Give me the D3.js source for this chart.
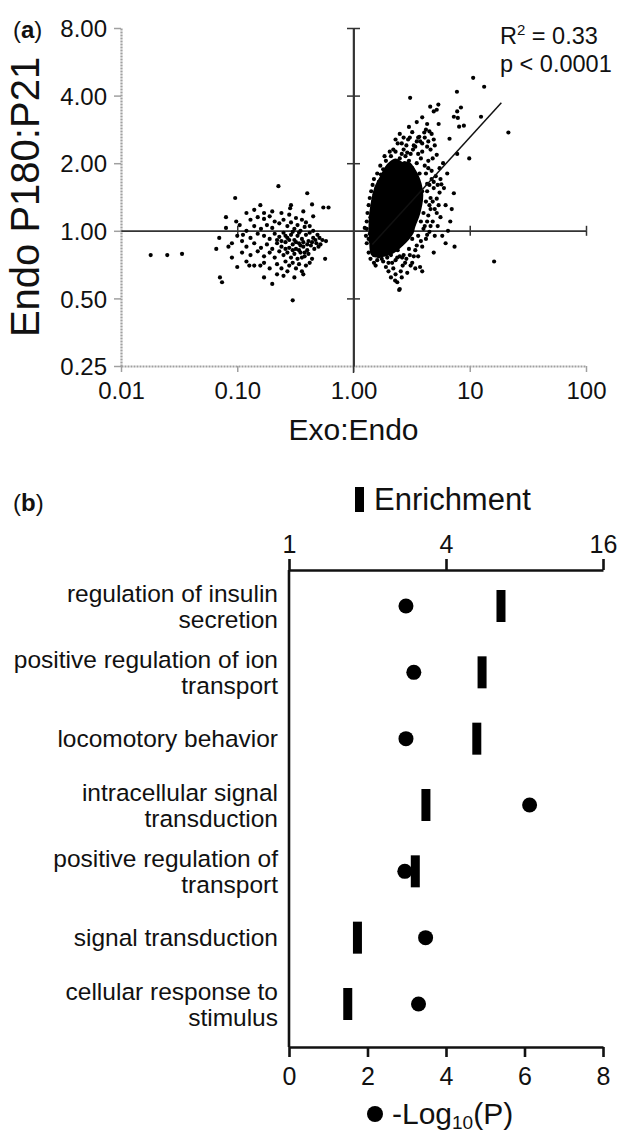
<!DOCTYPE html>
<html>
<head>
<meta charset="utf-8">
<script src="https://cdn.jsdelivr.net/npm/d3@7"></script>
<style>
  body { margin: 0; background: #fff; }
  text { font-family: "Liberation Sans", Arial, sans-serif; fill: #111; }
</style>
</head>
<body>
<div id="chart"></div>
<script>
// ---- panel (a) data: Exo:Endo vs Endo P180:P21 ----
const xTicksA = [0.01, 0.1, 1, 10, 100];
const xTickLabelsA = ['0.01', '0.10', '1.00', '10', '100'];
const yTicksA = [0.25, 0.5, 1, 2, 4, 8];
const yTickLabelsA = ['0.25', '0.50', '1.00', '2.00', '4.00', '8.00'];

// isolated points far left
const farLeft = [[0.018, 0.78], [0.025, 0.78], [0.0335, 0.79]];

// left cluster (exo depleted)
const leftCluster = [
  [0.096,1.40],[0.226,1.58],[0.40,1.47],[0.158,1.30],[0.285,1.26],[0.44,1.31],[0.55,1.27],[0.61,1.27],
  [0.080,1.15],[0.098,1.10],[0.112,0.96],[0.066,0.83],[0.084,0.85],[0.071,0.62],[0.074,0.59],[0.10,0.69],
  [0.127,0.70],[0.158,0.70],[0.20,0.58],[0.25,0.63],[0.36,0.66],[0.30,0.49],[0.57,0.75],[0.58,0.90],[0.37,0.64],
  [0.13,1.12],[0.15,1.15],[0.17,1.13],[0.19,1.16],[0.21,1.10],[0.14,1.05],[0.16,1.02],[0.18,1.06],[0.20,1.03],
  [0.23,1.08],[0.25,1.12],[0.27,1.05],[0.29,1.09],[0.31,1.02],[0.33,1.06],[0.35,1.00],[0.38,1.04],[0.42,0.98],
  [0.12,1.00],[0.10,0.95],[0.11,0.90],[0.13,0.93],[0.15,0.97],[0.17,0.95],[0.19,0.92],[0.21,0.97],[0.23,0.94],
  [0.25,0.98],[0.27,0.93],[0.29,0.96],[0.31,0.91],[0.33,0.95],[0.36,0.92],[0.39,0.96],[0.41,0.90],[0.45,0.93],
  [0.48,0.88],[0.52,0.87],[0.09,0.88],[0.12,0.85],[0.14,0.88],[0.16,0.84],[0.18,0.87],[0.20,0.83],[0.22,0.88],
  [0.24,0.85],[0.26,0.89],[0.28,0.84],[0.30,0.87],[0.32,0.83],[0.34,0.88],[0.37,0.85],[0.40,0.82],[0.43,0.86],
  [0.46,0.83],[0.50,0.85],[0.11,0.80],[0.13,0.78],[0.15,0.81],[0.17,0.77],[0.19,0.80],[0.21,0.76],[0.23,0.81],
  [0.25,0.78],[0.27,0.80],[0.29,0.76],[0.31,0.79],[0.33,0.75],[0.35,0.80],[0.38,0.77],[0.41,0.79],[0.44,0.75],
  [0.09,0.76],[0.12,0.73],[0.14,0.70],[0.17,0.72],[0.19,0.68],[0.22,0.71],[0.24,0.68],[0.26,0.73],[0.28,0.70],
  [0.30,0.72],[0.32,0.68],[0.34,0.71],[0.39,0.70],[0.42,0.72],[0.22,0.64],[0.27,0.66],[0.31,0.62],[0.17,0.62],
  [0.24,1.20],[0.28,1.18],[0.32,1.14],[0.36,1.12],[0.20,1.22],[0.17,1.20],[0.34,0.98],[0.26,0.95],[0.22,0.91],
  [0.30,0.99],[0.37,0.89],[0.24,0.90],[0.28,0.91],[0.32,0.89],[0.35,0.86],[0.26,0.83],[0.30,0.82],[0.34,0.82],
  [0.38,0.80],[0.36,0.76],[0.40,0.87],[0.44,0.89],[0.47,0.91],[0.51,0.93],[0.54,0.91],[0.49,0.96],[0.45,1.00],
  [0.42,1.05],[0.39,1.09],[0.07,0.93],[0.08,1.03],[0.105,1.06],[0.14,1.24],[0.12,1.20],[0.29,1.30],[0.37,1.22],
  [0.45,1.16]
];

// right cluster: outline of the dense core where the dots overlap completely
const coreOutline = [
  [1.45,0.77],[1.36,0.92],[1.35,1.10],[1.39,1.28],[1.51,1.56],[1.70,1.76],[1.92,1.97],[2.29,2.10],
  [2.70,2.02],[2.96,2.04],[3.61,1.78],[3.98,1.46],[3.75,1.19],[3.40,1.04],[3.27,0.97],[2.68,0.86],[2.07,0.78]
];
// scattered dots of the right cluster
const rightCluster = [
  [10.7,4.8],[13.3,4.38],[7.76,4.16],[3.07,3.91],[4.57,3.57],[5.37,3.65],[5.2,3.46],[4.9,3.4],[8.4,3.54],
  [7.8,3.4],[7.3,3.22],[7.9,3.18],[12.5,3.22],[8.1,2.91],[8.9,2.94],[4.3,2.99],[5.4,2.99],[4.2,2.82],
  [4.5,2.77],[4.06,2.74],[3.68,2.62],[4.9,2.55],[6.7,2.57],[3.75,2.5],[4.3,2.37],[2.9,2.23],[3.4,2.37],
  [7.8,2.2],[9.9,2.1],[5.2,2.18],[21.5,2.74],
  [1.25,1.03],[2.28,0.60],[2.5,0.55],[2.78,0.72],[3.74,0.69],[3.9,0.66],[4.9,0.80],[6.2,0.88],[7.4,0.85],
  [7.3,1.47],[6.2,1.30],[5.7,1.61],[16.2,0.73],[5.2,1.39],[4.4,1.17],[4.3,0.96],[3.3,0.77],[3.6,0.77],
  [2.38,0.59],[2.47,0.545],[2.38,0.76],[2.62,0.76],
  [1.9,2.05],[2.1,2.15],[2.3,2.25],[2.5,2.1],[2.7,2.3],[2.2,1.95],[2.6,1.98],[3.0,2.05],[3.2,1.9],[3.5,2.0],
  [3.8,2.1],[4.1,1.95],[4.4,2.05],[3.3,2.4],[3.6,2.6],[3.9,2.45],[4.6,2.3],[4.8,2.1],[5.5,1.9],[5.9,2.0],
  [6.4,1.8],[5.1,1.75],[4.7,1.7],[4.3,1.62],[4.9,1.55],[5.5,1.48],[6.0,1.55],[4.6,1.4],[5.0,1.25],[4.5,1.3],
  [4.8,1.1],[5.3,1.05],[4.5,0.99],[4.0,1.02],[3.8,0.9],[3.5,0.86],[3.2,0.92],[3.0,0.83],[2.7,0.78],[2.4,0.82],
  [2.1,0.78],[1.9,0.80],[1.7,0.82],[1.55,0.80],[1.45,0.84],[1.4,0.90],[1.38,0.97],[1.42,1.05],[1.40,1.15],
  [1.45,1.25],[1.48,1.35],[1.52,1.45],[1.58,1.55],[1.65,1.65],[1.72,1.78],[1.8,1.88],[2.0,1.85],[1.95,1.70],
  [2.4,2.0],[2.8,2.15],[3.1,2.2],[2.6,2.45],[2.95,2.55],[3.2,2.75],[2.75,2.0],[6.8,1.1],[5.8,0.95],[5.6,1.15],
  [6.5,1.0],[7.0,1.25],[3.1,0.70],[2.9,0.65],[3.4,0.68],[2.2,0.68],[2.0,0.72],[1.75,0.75],[1.6,0.74],
  [2.55,0.66],[3.7,1.8],[4.2,1.8],[3.9,1.5],[4.2,1.35],[4.0,1.2],[3.8,1.1],[4.3,1.1],[1.3,1.1],[1.35,0.92],
  [1.5,0.72],[2.45,1.95],[2.95,1.85],[3.4,1.75],
  [2.2,2.3],[2.4,2.45],[2.6,2.2],[2.85,2.4],[3.05,2.6],[3.25,2.3],[3.5,2.5],[3.6,2.2],[3.9,2.25],[4.1,2.6],
  [4.4,2.5],[4.7,2.7],[5.0,2.4],[3.0,2.9],[3.5,3.05],[3.9,3.2],[2.7,2.6],[2.5,2.7],[2.3,2.55],[2.05,2.25],
  [1.85,2.15],[4.3,1.5],[4.5,1.6],[4.7,1.85],[4.4,1.9],[4.9,1.65],[5.3,1.6],[5.6,1.7],[4.6,1.25],[4.8,1.35],
  [5.2,1.2],[5.4,1.3],[4.1,1.05],[4.6,1.05],[5.0,0.95],[4.2,0.92],[3.9,0.85],[3.6,0.95],[3.4,0.82],
  [1.5,0.78],[1.65,0.77],[1.8,0.73],[1.95,0.76],[2.15,0.72],[2.3,0.74],[2.5,0.77],[2.65,0.7],[2.85,0.75],
  [3.05,0.78],[1.55,0.7],[2.0,0.66],[2.3,0.64],[2.6,0.62],[2.1,0.62],[1.9,0.69],[3.2,0.72],
  [1.28,0.95],[1.3,1.02],[1.32,1.2],[1.35,1.3],[1.38,1.4],[1.42,1.5],[1.46,1.6],[1.5,1.7],[1.6,1.8],
  [1.7,1.95],[1.3,0.88],[1.35,0.8],[1.4,0.75]
];

// regression line end points
const fitX = [1.45, 18.7];
const fitY = [0.87, 3.72];

// ---- panel (b) data: GO enrichment ----
const categories = [
  'regulation of insulin secretion',
  'positive regulation of ion transport',
  'locomotory behavior',
  'intracellular signal transduction',
  'positive regulation of transport',
  'signal transduction',
  'cellular response to stimulus'
];
const categoryLines = [
  ['regulation of insulin', 'secretion'],
  ['positive regulation of ion', 'transport'],
  ['locomotory behavior'],
  ['intracellular signal', 'transduction'],
  ['positive regulation of', 'transport'],
  ['signal transduction'],
  ['cellular response to', 'stimulus']
];
const enrichment = [6.5, 5.5, 5.25, 3.35, 3.05, 1.83, 1.68];
const negLogP = [2.98, 3.18, 2.98, 6.13, 2.95, 3.48, 3.30];
const enrichTicks = [1, 4, 16];
const pTicks = [0, 2, 4, 6, 8];

const W = 619, H = 1134;
const svg = d3.select('#chart').append('svg')
  .attr('width', W).attr('height', H);

/* ================= panel (a) ================= */
const A = { left: 121, right: 586, top: 28, bottom: 366 };
const xA = d3.scaleLog().domain([0.01, 100]).range([A.left, A.right]);
const yA = d3.scaleLog().base(2).domain([0.25, 8]).range([A.bottom, A.top]);

const grey = '#a0a0a0';

// outer grey axes
const leftAxis = svg.append('g')
  .attr('transform', `translate(${A.left},0)`)
  .call(d3.axisLeft(yA).tickValues(yTicksA).tickSize(7).tickSizeOuter(0)
    .tickFormat((d, i) => yTickLabelsA[i]));
const bottomAxis = svg.append('g')
  .attr('transform', `translate(0,${A.bottom})`)
  .call(d3.axisBottom(xA).tickValues(xTicksA).tickSize(6).tickSizeOuter(0)
    .tickFormat((d, i) => xTickLabelsA[i]));
[leftAxis, bottomAxis].forEach(g => {
  g.select('.domain').attr('stroke', grey).attr('stroke-width', 2.2).attr('stroke-dasharray', '2,1');
  g.selectAll('.tick line').attr('stroke', grey).attr('stroke-width', 1.5);
  g.selectAll('.tick text').attr('font-size', 24).attr('fill', '#111')
    .style('font-family', '"Liberation Sans", Arial, sans-serif');
});
leftAxis.selectAll('.tick text').attr('x', -14).attr('dy', '0.36em');
bottomAxis.selectAll('.tick text').attr('y', 11).attr('dy', '0.9em');

// central cross through (1,1)
const cx = xA(1), cy = yA(1);
const crossV = svg.append('g').attr('transform', `translate(${cx},0)`);
crossV.append('g').call(d3.axisLeft(yA).tickValues([0.5, 2, 4, 8]).tickSize(6.5).tickSizeOuter(0).tickFormat(''));
crossV.append('g').call(d3.axisRight(yA).tickValues([0.5, 2, 4, 8]).tickSize(6.5).tickSizeOuter(0).tickFormat(''));
crossV.append('line').attr('y1', yA(8)).attr('y2', A.bottom + 7);
const crossH = svg.append('g').attr('transform', `translate(0,${cy})`);
crossH.append('g').call(d3.axisTop(xA).tickValues([0.1, 10, 100]).tickSize(5).tickSizeOuter(0).tickFormat(''));
crossH.append('g').call(d3.axisBottom(xA).tickValues([0.1, 10, 100]).tickSize(5).tickSizeOuter(0).tickFormat(''));
[crossV, crossH].forEach(g => {
  g.selectAll('.domain').attr('stroke', '#333').attr('stroke-width', 1.5);
  g.selectAll('line').attr('stroke', '#333').attr('stroke-width', 1.5);
});

// dense core of the right cluster
svg.append('path')
  .datum(coreOutline)
  .attr('d', d3.line().x(d => xA(d[0])).y(d => yA(d[1])).curve(d3.curveCatmullRomClosed))
  .attr('fill', '#000');

// scatter dots
const dots = farLeft.concat(leftCluster, rightCluster);
svg.append('g').selectAll('circle')
  .data(dots)
  .join('circle')
    .attr('cx', d => xA(d[0]))
    .attr('cy', d => yA(d[1]))
    .attr('r', 2.1)
    .attr('fill', '#000');

// regression line
svg.append('line')
  .attr('x1', xA(fitX[0])).attr('y1', yA(fitY[0]))
  .attr('x2', xA(fitX[1])).attr('y2', yA(fitY[1]))
  .attr('stroke', '#111').attr('stroke-width', 1.5);

// R^2 / p text
const stat = svg.append('text').attr('x', 500).attr('y', 44).attr('font-size', 23.5);
stat.append('tspan').text('R');
stat.append('tspan').text('2').attr('font-size', 15).attr('dy', -9);
stat.append('tspan').text(' = 0.33').attr('dy', 9);
svg.append('text').attr('x', 500).attr('y', 72).attr('font-size', 23.5).text('p < 0.0001');

// axis titles and panel letter
svg.append('text')
  .attr('transform', `translate(39,${(A.top + A.bottom) / 2}) rotate(-90)`)
  .attr('text-anchor', 'middle').attr('font-size', 40)
  .text('Endo P180:P21');
svg.append('text').attr('x', cx).attr('y', 440)
  .attr('text-anchor', 'middle').attr('font-size', 30).text('Exo:Endo');
const la = svg.append('text').attr('x', 13).attr('y', 38).attr('font-size', 24);
la.append('tspan').text('(');
la.append('tspan').text('a').attr('font-weight', 'bold');
la.append('tspan').text(')');

/* ================= panel (b) ================= */
const B = { left: 289, right: 603, top: 570, bottom: 1047 };
const xEnr = d3.scaleLog().base(2).domain([1, 16]).range([B.left, B.right]);
const xP = d3.scaleLinear().domain([0, 8]).range([B.left, B.right]);
const yB = d3.scalePoint().domain(categories).range([B.top + 36, B.bottom - 43]);

const topAxis = svg.append('g')
  .attr('transform', `translate(0,${B.top})`)
  .call(d3.axisTop(xEnr).tickValues(enrichTicks).tickSize(11).tickSizeOuter(0)
    .tickFormat(d3.format('d')));
const botAxis = svg.append('g')
  .attr('transform', `translate(0,${B.bottom})`)
  .call(d3.axisBottom(xP).tickValues(pTicks).tickSize(10).tickSizeOuter(0));
[topAxis, botAxis].forEach(g => {
  g.select('.domain').attr('stroke', '#111').attr('stroke-width', 2.6);
  g.selectAll('.tick line').attr('stroke', '#111').attr('stroke-width', 2.6);
  g.selectAll('.tick text').attr('font-size', 25).attr('fill', '#111')
    .style('font-family', '"Liberation Sans", Arial, sans-serif');
});
topAxis.selectAll('.tick text').attr('y', -17);
botAxis.selectAll('.tick text').attr('y', 20).attr('dy', '0.71em');

svg.append('line')
  .attr('x1', B.left).attr('x2', B.left)
  .attr('y1', B.top).attr('y2', B.bottom)
  .attr('stroke', '#111').attr('stroke-width', 2.6);

// category labels
const labels = svg.append('g').selectAll('text')
  .data(categories)
  .join('text')
    .attr('text-anchor', 'end')
    .attr('font-size', 24.5)
    .attr('transform', d => `translate(278,${yB(d)})`);
labels.each(function (d, i) {
  const lines = categoryLines[i];
  const lh = 26;
  const y0 = -(lines.length - 1) * lh / 2;
  lines.forEach((t, j) => {
    d3.select(this).append('tspan')
      .attr('x', 0).attr('y', y0 + j * lh).attr('dy', '0.36em').text(t);
  });
});

// enrichment bars and -log10(P) dots
svg.append('g').selectAll('rect')
  .data(categories)
  .join('rect')
    .attr('x', (d, i) => xEnr(enrichment[i]) - 4.5)
    .attr('y', d => yB(d) - 16)
    .attr('width', 9).attr('height', 32)
    .attr('fill', '#000');
svg.append('g').selectAll('circle')
  .data(categories)
  .join('circle')
    .attr('cx', (d, i) => xP(negLogP[i]))
    .attr('cy', d => yB(d))
    .attr('r', 7.5)
    .attr('fill', '#000');

// legends
svg.append('rect').attr('x', 355).attr('y', 487).attr('width', 9).attr('height', 25).attr('fill', '#000');
svg.append('text').attr('x', 374).attr('y', 510).attr('font-size', 31).text('Enrichment');
svg.append('circle').attr('cx', 375).attr('cy', 1114).attr('r', 8).attr('fill', '#000');
const lp = svg.append('text').attr('x', 392).attr('y', 1124).attr('font-size', 30);
lp.append('tspan').text('-Log');
lp.append('tspan').text('10').attr('font-size', 19).attr('dy', 5);
lp.append('tspan').text('(P)').attr('dy', -5);

const lb = svg.append('text').attr('x', 13).attr('y', 511).attr('font-size', 24);
lb.append('tspan').text('(');
lb.append('tspan').text('b').attr('font-weight', 'bold');
lb.append('tspan').text(')');
</script>
</body>
</html>
